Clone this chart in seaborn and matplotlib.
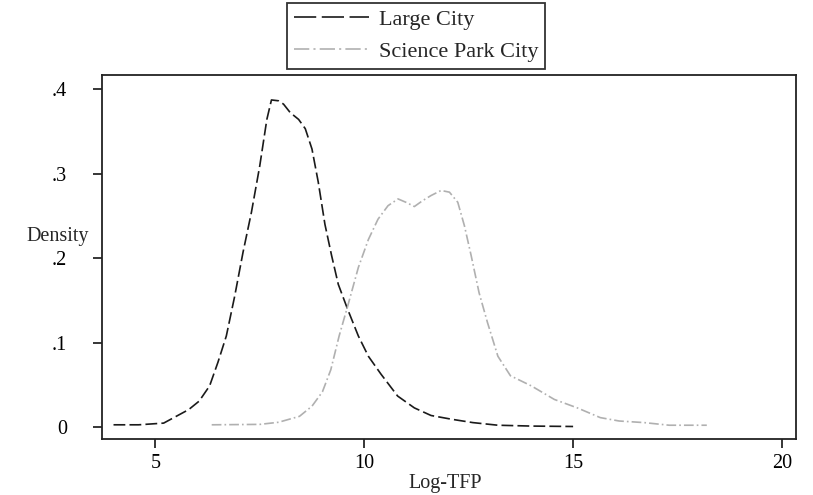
import matplotlib
matplotlib.use("Agg")
import matplotlib.pyplot as plt
import pandas as pd
import seaborn as sns

# density curves
large_x = [4.0, 4.6, 5.2, 5.5, 5.8, 6.05, 6.3, 6.5, 6.7, 6.9, 7.1, 7.3, 7.5, 7.67, 7.78,
           7.95, 8.07, 8.23, 8.43, 8.59, 8.75, 8.9, 9.06, 9.22, 9.38, 9.6, 9.86, 10.1,
           10.4, 10.8, 11.2, 11.6, 12.1, 12.6, 13.2, 14.0, 15.0]
large_y = [0.003, 0.003, 0.005, 0.013, 0.021, 0.031, 0.049, 0.077, 0.108, 0.155, 0.207,
           0.254, 0.309, 0.364, 0.387, 0.386, 0.382, 0.372, 0.364, 0.353, 0.329, 0.29,
           0.240, 0.203, 0.169, 0.140, 0.108, 0.084, 0.063, 0.037, 0.023, 0.014, 0.0095,
           0.0056, 0.0025, 0.0015, 0.001]

park_x = [6.35, 7.5, 7.95, 8.45, 8.75, 9.0, 9.2, 9.4, 9.62, 9.86, 10.1, 10.33, 10.57,
          10.81, 11.0, 11.2, 11.4, 11.6, 11.84, 12.04, 12.24, 12.4, 12.56, 12.75, 12.95,
          13.2, 13.5, 14.0, 14.55, 15.1, 15.65, 16.1, 16.7, 17.3, 18.2]
park_y = [0.003, 0.0035, 0.006, 0.013, 0.025, 0.042, 0.068, 0.108, 0.146, 0.189, 0.222,
          0.246, 0.262, 0.270, 0.266, 0.261, 0.268, 0.274, 0.280, 0.278, 0.266, 0.238,
          0.203, 0.159, 0.124, 0.084, 0.061, 0.049, 0.033, 0.023, 0.0115, 0.0075, 0.0056,
          0.0025, 0.0025]

series_names = ["Large City", "Science Park City"]
x_ticks = [5, 10, 15, 20]
y_ticks = [0, 0.1, 0.2, 0.3, 0.4]
y_tick_labels = ["0", ".1", ".2", ".3", ".4"]

df = pd.concat([
    pd.DataFrame({"x": large_x, "y": large_y, "city": series_names[0]}),
    pd.DataFrame({"x": park_x, "y": park_y, "city": series_names[1]}),
])

sns.set_style("ticks")
plt.rcParams["font.family"] = ["Liberation Serif", "DejaVu Serif"]
plt.rcParams["font.size"] = 14
plt.rcParams["lines.scale_dashes"] = False

fig = plt.figure(figsize=(8.13, 4.95), dpi=100)
ax = fig.add_axes([0.1258, 0.1131, 0.9791 - 0.1258, 0.8485 - 0.1131])

palette = {series_names[0]: "#1a1a1a", series_names[1]: "#b0b0b0"}
dashes = {series_names[0]: (8.5, 3), series_names[1]: (7, 2.2, 1.2, 2.2)}
sns.lineplot(data=df, x="x", y="y", hue="city", style="city", palette=palette,
             dashes=dashes, linewidth=1.2, sort=False, estimator=None, ax=ax)

ax.set_xlim(3.731, 20.335)
ax.set_ylim(-0.0138, 0.4165)
ax.set_xticks(x_ticks)
ax.set_xticklabels([str(t) for t in x_ticks])
ax.set_yticks(y_ticks)
ax.set_yticklabels(y_tick_labels)
ax.tick_params(axis="x", length=6.5, width=1.1, pad=4, colors="black", labelsize=14.5)
ax.tick_params(axis="y", length=6.5, width=1.1, pad=19, colors="black", labelsize=14.5)
for sp in ax.spines.values():
    sp.set_visible(True)
    sp.set_linewidth(1.3)
    sp.set_color("#222222")

ax.set_xlabel("Log-TFP", fontsize=14.5)
ax.xaxis.set_label_coords(0.4947, -0.121)
ax.xaxis.label.set_va("center")
ax.set_ylabel("Density", fontsize=14.5, rotation=0, ha="center", va="center")
ax.yaxis.set_label_coords(-0.064, 0.555)

handles, labels = ax.get_legend_handles_labels()
ax.get_legend().remove()
leg = fig.legend(handles, labels, loc="upper left", bbox_to_anchor=(287 / 813, 1 - 3 / 495),
                 borderaxespad=0, frameon=True, fancybox=False, edgecolor="black",
                 handlelength=3.4, handletextpad=0.45, labelspacing=0.5,
                 borderpad=0.3, fontsize=16)
leg.get_frame().set_linewidth(1.3)
# the legend samples use longer dashes than the curves
leg_lines = leg.get_lines()
leg_lines[0].set_dashes((16, 4))
leg_lines[1].set_dashes((11, 3, 1.5, 3))

fig.savefig("out.png", dpi=100)
